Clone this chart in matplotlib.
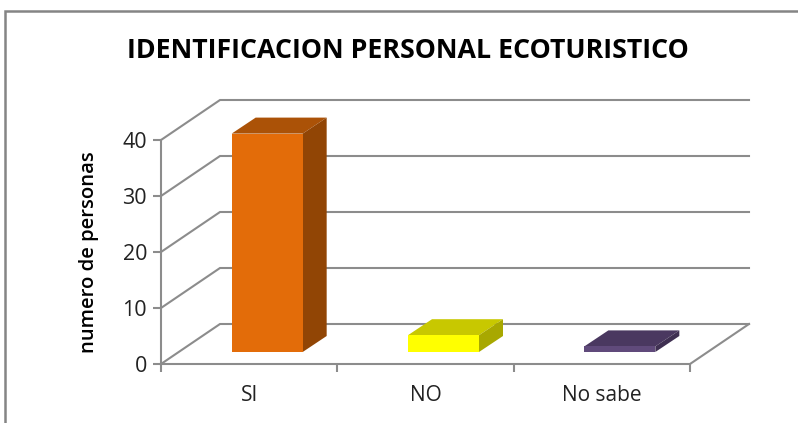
import matplotlib.pyplot as plt
from matplotlib.patches import Polygon, Rectangle

plt.rcParams['font.family'] = ['Open Sans', 'DejaVu Sans']

# datos
categorias = ['SI', 'NO', 'No sabe']
valores = [39, 3, 1]
colores_frente = ['#E36C09', '#FFFF00', '#604A7B']
colores_arriba = ['#AB5207', '#C8C800', '#4A3860']
colores_lado = ['#914505', '#A8A800', '#3F3052']
ticks_y = [0, 10, 20, 30, 40]

gris = '#8C8C8C'

fig = plt.figure(figsize=(7.98, 4.23), dpi=100)
fig.patch.set_facecolor('white')

# marco del grafico
fig.add_artist(Rectangle((5 / 798, -0.1), 1.0, 1.1 - 11 / 423, transform=fig.transFigure,
                         fill=False, ec='#858585', lw=1.8))

# el eje cubre el plano frontal
ax = fig.add_axes([161 / 798, 1 - 364 / 423, 529 / 798, 224 / 423])
ax.set_xlim(0, 3)
ax.set_ylim(0, 40)
ax.patch.set_alpha(0)

# profundidad del grafico en unidades de datos
prof_x = 59 / (529 / 3)
prof_y = 40 / 5.6

# paredes y lineas de division
for v in ticks_y:
    ax.plot([0, prof_x, 3 + prof_x], [v, v + prof_y, v + prof_y], color=gris, lw=1.5,
            clip_on=False, solid_joinstyle='miter', zorder=1)
ax.plot([3, 3 + prof_x], [0, prof_y], color=gris, lw=1.5, clip_on=False, zorder=1)

# barras 3D
ancho = 71 / (529 / 3)
base = 12 / 5.6
desp = 18 / (529 / 3)
bar_px = 24 / (529 / 3)
bar_py = 16 / 5.6
for i in range(len(categorias)):
    x0 = i + 0.5 + desp - ancho / 2
    x1 = x0 + ancho
    y0 = base
    y1 = base + valores[i]
    ax.add_patch(Polygon([(x0, y1), (x1, y1), (x1 + bar_px, y1 + bar_py), (x0 + bar_px, y1 + bar_py)],
                         fc=colores_arriba[i], ec='none', clip_on=False, zorder=3))
    ax.add_patch(Polygon([(x1, y0), (x1 + bar_px, y0 + bar_py), (x1 + bar_px, y1 + bar_py), (x1, y1)],
                         fc=colores_lado[i], ec='none', clip_on=False, zorder=3))
    ax.add_patch(Polygon([(x0, y0), (x1, y0), (x1, y1), (x0, y1)],
                         fc=colores_frente[i], ec='none', clip_on=False, zorder=4))

# ejes
for s in ['top', 'right']:
    ax.spines[s].set_visible(False)
for s in ['left', 'bottom']:
    ax.spines[s].set_color(gris)
    ax.spines[s].set_linewidth(1.5)

ax.set_yticks(ticks_y)
ax.set_xticks([0, 1, 2, 3])
ax.set_xticklabels([])
ax.set_xticks([0.5, 1.5, 2.5], labels=categorias, minor=True)
ax.tick_params(axis='both', which='major', color=gris, width=1.5, length=6, labelsize=15.5,
               labelcolor='#222222', pad=4)
ax.tick_params(axis='x', which='minor', length=0, labelsize=15, labelcolor='#222222', pad=15)

ax.set_ylabel('numero de personas', fontsize=14.6, fontweight='semibold', color='black')
ax.yaxis.set_label_coords(-0.118, 0.5)

fig.text(408 / 798, 1 - 51 / 423, 'IDENTIFICACION PERSONAL ECOTURISTICO', ha='center', va='center',
         fontsize=19.3, fontweight='bold', color='black')

plt.savefig('out.png', dpi=100)
